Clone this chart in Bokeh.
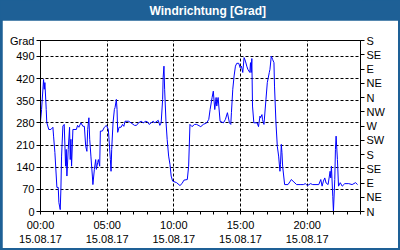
from bokeh.plotting import figure
from bokeh.models import (Range1d, LinearAxis, FixedTicker, Label, ColumnDataSource)
from bokeh.layouts import column
from bokeh.embed import file_html
from bokeh.resources import INLINE

# ---- data (hours since 00:00 on 15.08.17, wind direction in degrees) ----
hours = [0.00, 0.08, 0.23, 0.28, 0.33, 0.43, 0.47, 0.62, 0.78, 0.93, 0.98, 1.08,
         1.23, 1.33, 1.38, 1.48, 1.53, 1.58, 1.68, 1.78, 1.88, 1.93, 1.98, 2.08,
         2.18, 2.23, 2.28, 2.33, 2.43, 2.69, 2.78, 2.88, 3.03, 3.18, 3.29, 3.39,
         3.48, 3.54, 3.63, 3.69, 3.78, 3.89, 3.93, 4.04, 4.14, 4.19, 4.29, 4.34,
         4.44, 4.49, 4.64, 4.79, 4.94, 5.09, 5.14, 5.24, 5.29, 5.34, 5.44, 5.54,
         5.59, 5.69, 5.74, 5.79, 5.89, 6.04, 6.15, 6.25, 6.34, 6.60, 6.79, 7.05,
         7.20, 7.35, 7.55, 7.70, 7.90, 8.05, 8.15, 8.45, 8.58, 8.83, 8.95, 9.05,
         9.16, 9.20, 9.26, 9.31, 9.41, 9.50, 9.61, 9.71, 9.80, 9.91, 10.21, 10.46,
         10.61, 10.76, 11.01, 11.11, 11.21, 11.36, 11.56, 11.71, 12.02, 12.21, 12.47, 12.62,
         12.72, 12.87, 12.96, 13.07, 13.17, 13.22, 13.32, 13.47, 13.72, 13.87, 14.02, 14.17,
         14.27, 14.32, 14.42, 14.52, 14.62, 14.72, 14.87, 14.97, 15.07, 15.17, 15.27, 15.37,
         15.47, 15.55, 15.70, 15.75, 15.80, 15.85, 15.90, 16.00, 16.25, 16.35, 16.46, 16.50,
         16.61, 16.65, 16.76, 16.91, 17.01, 17.16, 17.21, 17.31, 17.41, 17.51, 17.55, 17.66,
         17.76, 17.86, 17.96, 18.00, 18.06, 18.11, 18.16, 18.31, 18.56, 18.74, 18.81, 19.01,
         19.21, 19.47, 19.71, 19.86, 20.02, 20.26, 20.41, 20.87, 21.02, 21.12, 21.22, 21.32,
         21.42, 21.57, 21.72, 21.77, 21.82, 21.92, 21.97, 22.07, 22.12, 22.17, 22.27, 22.35,
         22.48, 22.63, 22.82, 23.12, 23.37, 23.63, 23.78]
direction = [285, 322, 417, 386, 407, 322, 281, 259, 259, 266, 238, 186,
             76, 76, 28, 6, 70, 175, 270, 275, 143, 196, 112, 196,
             266, 164, 228, 143, 259, 259, 272, 266, 280, 269, 269, 206,
             190, 259, 296, 228, 175, 112, 85, 133, 164, 133, 155, 164,
             143, 254, 254, 266, 272, 259, 228, 164, 127, 196, 280, 322,
             328, 354, 322, 250, 266, 266, 275, 269, 285, 285, 280, 272,
             272, 280, 285, 280, 285, 282, 275, 285, 280, 288, 272, 280,
             354, 424, 459, 386, 285, 228, 175, 149, 112, 96, 91, 82,
             88, 99, 101, 143, 275, 268, 275, 275, 268, 275, 280, 291,
             322, 360, 380, 322, 360, 333, 360, 285, 280, 291, 312, 280,
             275, 312, 386, 428, 459, 468, 468, 454, 459, 439, 486, 475,
             459, 449, 439, 470, 439, 483, 333, 280, 280, 268, 301, 296,
             306, 290, 275, 354, 407, 439, 449, 491, 480, 470, 396, 280,
             206, 175, 127, 149, 212, 186, 143, 85, 85, 96, 101, 93,
             85, 85, 85, 88, 82, 88, 85, 85, 101, 80, 96, 106,
             90, 85, 127, 106, 143, 48, 0, 101, 196, 238, 164, 80,
             91, 80, 88, 88, 85, 91, 85]

title_text = "Windrichtung [Grad]"
y_unit = "Grad"
grad_ticks = [0, 70, 140, 210, 280, 350, 420, 490]
y_top = 540
compass_ticks = [0, 45, 90, 135, 180, 225, 270, 315, 360, 405, 450, 495, 540]
compass_labels = ["N", "NE", "E", "SE", "S", "SW", "W", "NW", "N", "NE", "E", "SE", "S"]
hour_ticks = list(range(0, 25))
time_labels = {0: "00:00", 5: "05:00", 10: "10:00", 15: "15:00", 20: "20:00"}
date_label = "15.08.17"

BLUE = "#1e6096"
FONT = "Liberation Sans"

# ---- title bar ----
tb = figure(width=400, height=20, x_range=Range1d(0, 400), y_range=Range1d(0, 20),
            output_backend="svg", toolbar_location=None, min_border=0,
            border_fill_color=BLUE, background_fill_color=BLUE, outline_line_color=None)
tb.axis.visible = False
tb.grid.visible = False
tb.add_layout(Label(x=209, y=10, text=title_text, text_align="center", text_baseline="middle",
                    text_color="white", text_font=FONT, text_font_style="bold",
                    text_font_size="12px"))

# ---- main chart ----
p = figure(width=396, height=228, x_range=Range1d(0, 24), y_range=Range1d(0, y_top),
           output_backend="svg", toolbar_location=None,
           min_border_left=38, min_border_right=38, min_border_top=20, min_border_bottom=37,
           border_fill_color="white", background_fill_color="white",
           outline_line_color="black", margin=(0, 2, 2, 2))

src = ColumnDataSource(dict(h=hours, d=direction))
p.line("h", "d", source=src, line_color="#0000ff", line_width=1)

# left axis (unit name shown at the top)
ya = p.yaxis[0]
ya.ticker = FixedTicker(ticks=grad_ticks + [y_top])
ya.major_label_overrides = {y_top: y_unit}
# bottom axis
xa = p.xaxis[0]
xa.ticker = FixedTicker(ticks=hour_ticks)
xa.major_label_overrides = {h: (f"{time_labels[h]}\n{date_label}" if h in time_labels else "")
                            for h in hour_ticks}
# right axis
ra = LinearAxis(ticker=FixedTicker(ticks=compass_ticks),
                major_label_overrides={t: l for t, l in zip(compass_ticks, compass_labels)})
p.add_layout(ra, "right")

for ax in (ya, xa, ra):
    ax.axis_line_color = "black"
    ax.major_tick_line_color = "black"
    ax.minor_tick_line_color = None
    ax.major_tick_in = 0
    ax.major_tick_out = 4
    ax.major_label_standoff = 2
    ax.major_label_text_font = FONT
    ax.major_label_text_font_size = "11px"
    ax.major_label_text_color = "black"
xa.major_tick_out = 3
xa.major_label_standoff = 4

p.xgrid.ticker = FixedTicker(ticks=[5, 10, 15, 20])
p.ygrid.ticker = FixedTicker(ticks=grad_ticks[1:])
for g in (p.xgrid[0], p.ygrid[0]):
    g.grid_line_color = "black"
    g.grid_line_dash = "3 2"
    g.grid_line_width = 1

layout = column(tb, p, spacing=0, styles={"background-color": BLUE})

open("out.html", "w").write(file_html(layout, INLINE))
